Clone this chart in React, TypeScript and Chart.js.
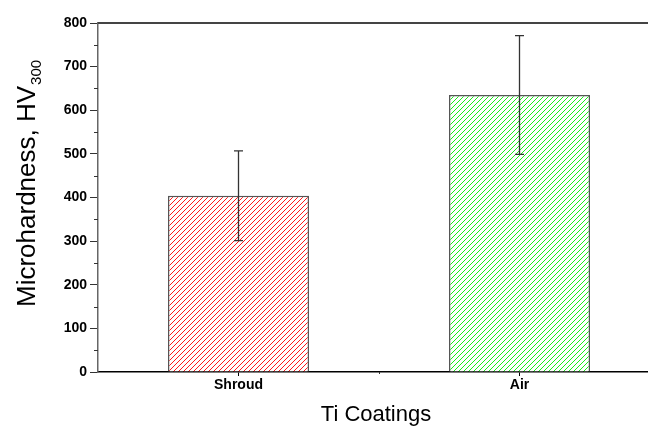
import React, { useEffect, useRef } from "react";
import { Chart, registerables } from "chart.js";

Chart.register(...registerables);

// ---- data ----
const categories = ["Shroud", "Air"];
const hardness = [404, 635];
const hardnessError = [103, 136];
const yMin = 0;
const yMax = 800;
const yStep = 100;
const yMinorTicks = [50, 150, 250, 350, 450, 550, 650, 750];
const xMinorTicks = [0.5];
const hatchColors = ["#ff1a1a", "#1aee1a"];
const xTitle = "Ti Coatings";
const yTitleMain = "Microhardness, HV";
const yTitleSub = "300";

function makeHatch(color: string): CanvasPattern | string {
  const s = 5;
  const c = document.createElement("canvas");
  c.width = s;
  c.height = s;
  const g = c.getContext("2d");
  if (!g) return color;
  g.fillStyle = "#ffffff";
  g.fillRect(0, 0, s, s);
  g.strokeStyle = color;
  g.lineWidth = 1;
  g.beginPath();
  g.moveTo(-1, s + 1);
  g.lineTo(s + 1, -1);
  g.moveTo(-1, 1);
  g.lineTo(1, -1);
  g.moveTo(s - 1, s + 1);
  g.lineTo(s + 1, s - 1);
  g.stroke();
  const p = g.createPattern(c, "repeat");
  return p || color;
}

const decorPlugin = {
  id: "decor",
  afterDatasetsDraw(chart: any) {
    const ctx = chart.ctx;
    const x = chart.scales.x;
    const y = chart.scales.y;
    ctx.save();
    ctx.strokeStyle = "#333";
    ctx.lineWidth = 1.3;
    for (let i = 0; i < hardness.length; i++) {
      const px = x.getPixelForValue(i);
      const top = y.getPixelForValue(hardness[i] + hardnessError[i]);
      const bot = y.getPixelForValue(hardness[i] - hardnessError[i]);
      ctx.beginPath();
      ctx.moveTo(px, top);
      ctx.lineTo(px, bot);
      ctx.moveTo(px - 4.5, top);
      ctx.lineTo(px + 4.5, top);
      ctx.moveTo(px - 4.5, bot);
      ctx.lineTo(px + 4.5, bot);
      ctx.stroke();
    }
    ctx.restore();
  },
  afterDraw(chart: any) {
    const ctx = chart.ctx;
    const area = chart.chartArea;
    const x = chart.scales.x;
    const y = chart.scales.y;
    ctx.save();
    // top frame line
    ctx.strokeStyle = "#444";
    ctx.lineWidth = 2;
    ctx.beginPath();
    ctx.moveTo(area.left, area.top);
    ctx.lineTo(area.right, area.top);
    ctx.stroke();
    // minor y ticks
    ctx.strokeStyle = "#333";
    ctx.lineWidth = 1;
    ctx.beginPath();
    for (const v of yMinorTicks) {
      const py = Math.round(y.getPixelForValue(v)) + 0.5;
      ctx.moveTo(area.left - 4, py);
      ctx.lineTo(area.left, py);
    }
    for (const v of xMinorTicks) {
      const px = Math.round(x.getPixelForValue(v)) + 0.5;
      ctx.moveTo(px, area.bottom);
      ctx.lineTo(px, area.bottom + 2);
    }
    ctx.stroke();
    // x title
    ctx.fillStyle = "#000";
    ctx.font = "22px 'Liberation Sans', Arial, sans-serif";
    ctx.textAlign = "center";
    ctx.textBaseline = "alphabetic";
    ctx.fillText(xTitle, (area.left + area.right) / 2 - 3, 421);
    // y title with subscript
    ctx.translate(35, 307);
    ctx.rotate(-Math.PI / 2);
    ctx.textAlign = "left";
    ctx.font = "26px 'Liberation Sans', Arial, sans-serif";
    ctx.fillText(yTitleMain, 0, 0);
    const w = ctx.measureText(yTitleMain).width;
    ctx.font = "15px 'Liberation Sans', Arial, sans-serif";
    ctx.fillText(yTitleSub, w + 1, 6);
    ctx.restore();
  },
};

export default function App() {
  const ref = useRef<HTMLCanvasElement | null>(null);
  useEffect(() => {
    if (!ref.current) return;
    const chart = new Chart(ref.current, {
      type: "bar",
      data: {
        labels: categories,
        datasets: [
          {
            data: hardness,
            backgroundColor: hatchColors.map(makeHatch) as any,
            borderColor: "#555",
            borderWidth: 1.5,
            categoryPercentage: 1,
            barPercentage: 0.502,
          },
        ],
      },
      options: {
        animation: false,
        responsive: true,
        maintainAspectRatio: false,
        layout: { padding: { left: 0, top: 23, right: 2, bottom: 0 } },
        plugins: {
          legend: { display: false },
          tooltip: { enabled: false },
        },
        scales: {
          x: {
            type: "category",
            offset: true,
            grid: {
              display: true,
              drawOnChartArea: false,
              offset: false,
              tickLength: 4,
              color: "#000",
              lineWidth: 1,
            },
            border: { display: true, color: "#000", width: 1.5 },
            ticks: {
              color: "#000",
              padding: 1,
              font: { family: "'Liberation Sans', Arial, sans-serif", size: 14, weight: "bold" },
            },
            afterFit: (s: any) => {
              s.height = 58;
            },
          },
          y: {
            min: yMin,
            max: yMax,
            ticks: {
              stepSize: yStep,
              color: "#000",
              padding: 3,
              font: { family: "'Liberation Sans', Arial, sans-serif", size: 14, weight: "bold" },
            },
            grid: {
              display: true,
              drawOnChartArea: false,
              tickLength: 8,
              color: "#333",
              lineWidth: 1,
            },
            border: { display: true, color: "#666", width: 1.5 },
            afterFit: (s: any) => {
              s.width = 98;
            },
          },
        },
      },
      plugins: [decorPlugin],
    });
    return () => chart.destroy();
  }, []);
  return (
    <div
      style={{
        position: "fixed",
        left: 0,
        top: 0,
        width: 648,
        height: 430,
        overflow: "hidden",
        background: "#fff",
      }}
    >
      <div style={{ position: "relative", width: 662, height: 430 }}>
        <canvas ref={ref} />
      </div>
    </div>
  );
}
